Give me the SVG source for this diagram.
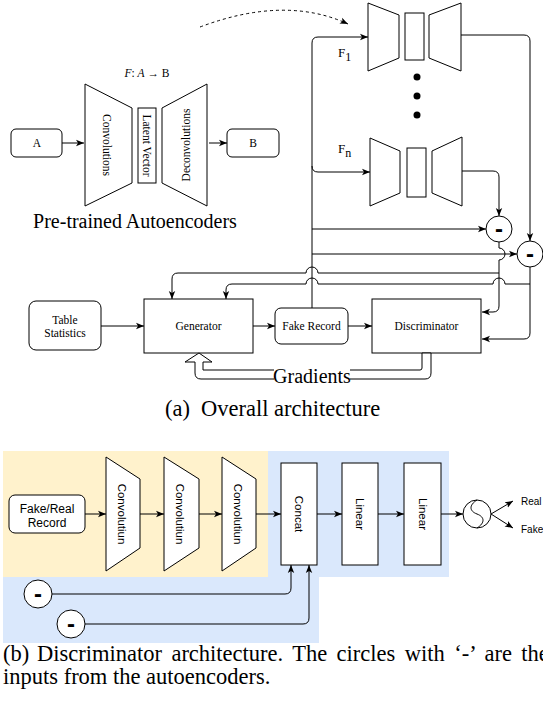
<svg xmlns="http://www.w3.org/2000/svg" width="543" height="708" viewBox="0 0 543 708">
  <defs>
    <marker id="arr" viewBox="0 0 10 10" refX="10" refY="5" markerWidth="8" markerHeight="8" markerUnits="userSpaceOnUse" orient="auto">
      <path d="M0,1 L10,5 L0,9 L2.5,5 Z" fill="#000" stroke="none"/>
    </marker>
  </defs>
  <style>
    .ln { fill: none; stroke: #000; stroke-width: 1; }
    .shp { fill: #fff; stroke: #000; stroke-width: 1; }
    .serif { font-family: "Liberation Serif", "Times New Roman", serif; fill: #000; }
    .sans { font-family: "Liberation Sans", Arial, sans-serif; fill: #000; }
    .lbl { font-size: 11.5px; text-anchor: middle; }
    .minus { font-family: "Liberation Sans", Arial, sans-serif; font-weight: bold; font-size: 24px; text-anchor: middle; fill: #000; }
    .cap { font-family: "Liberation Serif", "Times New Roman", serif; font-size: 22.5px; fill: #000; }
  </style>
  <rect x="0" y="0" width="543" height="708" fill="#fff"/>

  <!-- ===== (a) overall architecture ===== -->

  <!-- autoencoder overview -->
  <g id="ae-title">
    <text class="serif" x="147" y="77" font-size="11.5" text-anchor="middle"><tspan font-style="italic">F</tspan>: <tspan font-style="italic">A</tspan> → B</text>
  </g>
  <g id="node-a">
    <rect class="shp" x="11" y="129" width="51" height="28" rx="5"/>
    <text class="serif lbl" x="37" y="147">A</text>
  </g>
  <g id="node-conv">
    <polygon class="shp" points="85,84 132,108 132,183 85,206"/>
    <text class="serif lbl" transform="translate(107,145) rotate(90)" y="4">Convolutions</text>
  </g>
  <g id="node-latent">
    <rect class="shp" x="138" y="108" width="18" height="75"/>
    <text class="serif lbl" transform="translate(147,145.5) rotate(90)" y="4">Latent Vector</text>
  </g>
  <g id="node-deconv">
    <polygon class="shp" points="162,108 207,84 207,206 162,183"/>
    <text class="serif lbl" transform="translate(186,145) rotate(-90)" y="4">Deconvolutions</text>
  </g>
  <g id="node-b">
    <rect class="shp" x="227" y="129" width="52" height="28" rx="5"/>
    <text class="serif lbl" x="253" y="147">B</text>
  </g>
  <g id="ae-caption">
    <text class="serif" x="135" y="228" font-size="20" text-anchor="middle">Pre-trained Autoencoders</text>
  </g>

  <!-- autoencoder bank -->
  <g id="node-f1">
    <polygon class="shp" points="368,3 399,15 399,58 368,71"/>
    <rect class="shp" x="405" y="13" width="19" height="47"/>
    <polygon class="shp" points="429,15 461,3 461,71 429,58"/>
    <text class="serif" x="338" y="57" font-size="13">F<tspan font-size="12" dy="4">1</tspan></text>
  </g>
  <g id="dots">
    <circle cx="417" cy="77" r="3.5" fill="#000"/>
    <circle cx="417" cy="96" r="3.5" fill="#000"/>
    <circle cx="417" cy="115" r="3.5" fill="#000"/>
  </g>
  <g id="node-fn">
    <polygon class="shp" points="370,138 400,151 400,193 370,206"/>
    <rect class="shp" x="407" y="148" width="19" height="49"/>
    <polygon class="shp" points="432,151 462,137 462,206 432,193"/>
    <text class="serif" x="338" y="153" font-size="13">F<tspan font-size="12" dy="4">n</tspan></text>
  </g>
  <g id="node-minus1">
    <circle class="shp" cx="499" cy="229" r="13"/>
    <text class="minus" x="499" y="236.5">-</text>
  </g>
  <g id="node-minus2">
    <circle class="shp" cx="530" cy="254" r="13"/>
    <text class="minus" x="530" y="261.5">-</text>
  </g>

  <!-- GAN -->
  <g id="node-table-stats">
    <rect class="shp" x="29" y="301" width="72" height="49" rx="7"/>
    <text class="serif lbl" x="65" y="324">Table</text>
    <text class="serif lbl" x="65" y="337">Statistics</text>
  </g>
  <g id="node-generator">
    <rect class="shp" x="144" y="299" width="109" height="54"/>
    <text class="serif lbl" x="198.5" y="330">Generator</text>
  </g>
  <g id="node-fake-record">
    <rect class="shp" x="275" y="308" width="73" height="36" rx="6"/>
    <text class="serif lbl" x="311.5" y="330">Fake Record</text>
  </g>
  <g id="node-discriminator">
    <rect class="shp" x="372" y="299" width="109" height="54"/>
    <text class="serif lbl" x="426.5" y="330">Discriminator</text>
  </g>
  <g id="gradients">
    <path class="shp" d="M199,353 L212,362 L203,362 L203,370 L420,370 Q422,370 422,368 L422,353 L431,353 L431,373 Q431,379 425,379 L201,379 Q195,379 195,373 L195,362 L185,362 Z"/>
    <rect x="274" y="366" width="76" height="18" fill="#fff"/>
    <text class="serif" x="312" y="383" font-size="20" text-anchor="middle">Gradients</text>
  </g>

  <g id="connectors-a" class="ln">
    <path d="M200,27 Q285,-5 348,24" stroke-dasharray="3,3" marker-end="url(#arr)"/>
    <path d="M62,143 L84,143" marker-end="url(#arr)"/>
    <path d="M209,143 L227,143" marker-end="url(#arr)"/>
    <path d="M312,308 L312,43 Q312,37 318,37 L368,37" marker-end="url(#arr)"/>
    <path d="M312,166 Q312,172 318,172 L370,172" marker-end="url(#arr)"/>
    <path d="M312,229 L486,229" marker-end="url(#arr)"/>
    <path d="M312,254 L517,254" marker-end="url(#arr)"/>
    <path d="M461,35 L524,35 Q530,35 530,41 L530,241" marker-end="url(#arr)"/>
    <path d="M462,171 L493,171 Q499,171 499,177 L499,216" marker-end="url(#arr)"/>
    <path d="M499,242 L499,248 A6,6 0 0 1 499,260 L499,306 Q499,312 493,312 L482,312" marker-end="url(#arr)"/>
    <path d="M530,267 L530,333 Q530,339 524,339 L482,339" marker-end="url(#arr)"/>
    <path d="M499,273 L318,273 A6,6 0 0 0 306,273 L178,273 Q172,273 172,279 L172,299" marker-end="url(#arr)"/>
    <path d="M530,284 L505,284 A6,6 0 0 0 493,284 L318,284 A6,6 0 0 0 306,284 L232,284 Q226,284 226,290 L226,299" marker-end="url(#arr)"/>
    <path d="M101,326 L144,326" marker-end="url(#arr)"/>
    <path d="M253,326 L275,326" marker-end="url(#arr)"/>
    <path d="M348,326 L372,326" marker-end="url(#arr)"/>
  </g>

  <text class="cap" x="165" y="416" font-size="23.5">(a)<tspan x="201">Overall architecture</tspan></text>

  <!-- ===== (b) discriminator architecture ===== -->
  <g id="panels">
    <path d="M3,451 L449,451 L449,577 L319,577 L319,643 L3,643 Z" fill="#dae8fc"/>
    <rect x="3" y="451" width="265" height="126" fill="#fff2cc"/>
  </g>
  <g id="node-input">
    <rect class="shp" x="9" y="495" width="76" height="38" rx="6"/>
    <text class="sans" x="47" y="512.5" font-size="12" text-anchor="middle">Fake/Real</text>
    <text class="sans" x="47" y="526.5" font-size="12" text-anchor="middle">Record</text>
  </g>
  <g id="node-conv1">
    <polygon class="shp" points="106,457 140,479 140,548 106,571"/>
    <text class="sans lbl" transform="translate(122,514) rotate(90)" y="4">Convolutiun</text>
  </g>
  <g id="node-conv2">
    <polygon class="shp" points="164,457 199,479 199,548 164,571"/>
    <text class="sans lbl" transform="translate(180,514) rotate(90)" y="4">Convolutiun</text>
  </g>
  <g id="node-conv3">
    <polygon class="shp" points="222,457 256,479 256,548 222,571"/>
    <text class="sans lbl" transform="translate(238,514) rotate(90)" y="4">Convolutiun</text>
  </g>
  <g id="node-concat">
    <rect class="shp" x="281" y="463" width="36" height="102"/>
    <text class="sans lbl" transform="translate(299,514) rotate(90)" y="4">Concat</text>
  </g>
  <g id="node-linear1">
    <rect class="shp" x="342" y="463" width="36" height="102"/>
    <text class="sans lbl" transform="translate(360,514) rotate(90)" y="4">Linear</text>
  </g>
  <g id="node-linear2">
    <rect class="shp" x="404" y="463" width="37" height="102"/>
    <text class="sans lbl" transform="translate(422.5,514) rotate(90)" y="4">Linear</text>
  </g>
  <g id="node-sigmoid">
    <circle class="shp" cx="477" cy="514" r="14"/>
    <path class="ln" d="M477,500 C469,505 469,511 477,514 C485,517 485,523 477,528"/>
  </g>
  <g id="node-real">
    <text class="sans" x="521" y="505" font-size="10">Real</text>
  </g>
  <g id="node-fake">
    <text class="sans" x="521" y="533" font-size="10">Fake</text>
  </g>
  <g id="node-minus-b1">
    <circle class="shp" cx="38" cy="594" r="14"/>
    <text class="minus" x="38" y="601.5">-</text>
  </g>
  <g id="node-minus-b2">
    <circle class="shp" cx="71" cy="624" r="14"/>
    <text class="minus" x="71" y="631.5">-</text>
  </g>

  <g id="connectors-b" class="ln">
    <path d="M85,514 L106,514" marker-end="url(#arr)"/>
    <path d="M140,514 L164,514" marker-end="url(#arr)"/>
    <path d="M199,514 L222,514" marker-end="url(#arr)"/>
    <path d="M256,514 L281,514" marker-end="url(#arr)"/>
    <path d="M317,514 L342,514" marker-end="url(#arr)"/>
    <path d="M378,514 L404,514" marker-end="url(#arr)"/>
    <path d="M441,514 L463,514" marker-end="url(#arr)"/>
    <path d="M491,514 L513,501" marker-end="url(#arr)"/>
    <path d="M491,514 L513,528" marker-end="url(#arr)"/>
    <path d="M52,594 L285,594 Q291,594 291,588 L291,565" marker-end="url(#arr)"/>
    <path d="M85,624 L303,624 Q309,624 309,618 L309,565" marker-end="url(#arr)"/>
  </g>

  <text class="cap" x="3" y="661">(b)<tspan x="37" word-spacing="3.8">Discriminator architecture. The circles with ‘-’ are the</tspan><tspan x="3" dy="23">inputs from the autoencoders.</tspan></text>
</svg>
